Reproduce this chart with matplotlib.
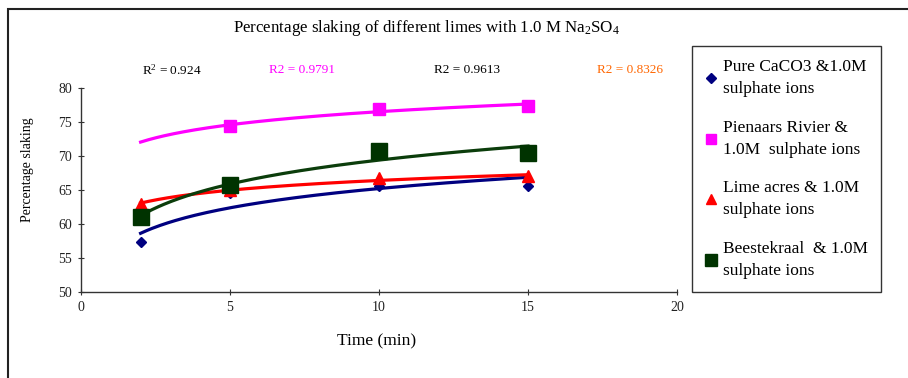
import numpy as np
import matplotlib
matplotlib.use('Agg')
import matplotlib.pyplot as plt
from matplotlib.patches import Rectangle

plt.rcParams['font.family'] = ['Liberation Serif', 'DejaVu Serif']
plt.rcParams['mathtext.fontset'] = 'custom'
plt.rcParams['mathtext.rm'] = 'Liberation Serif'
plt.rcParams['mathtext.it'] = 'Liberation Serif'

# data
x_pure = [2, 5, 10, 15]
y_pure = [57.4, 64.5, 65.6, 65.6]
x_pien = [5, 10, 15]
y_pien = [74.45, 76.9, 77.4]
x_lime = [2, 5, 10, 15]
y_lime = [63.0, 65.0, 66.7, 67.0]
x_bees = [2, 5, 10, 15]
y_bees = [61.05, 65.7, 70.7, 70.5]

labels = ['Pure CaCO3 &1.0M\nsulphate ions',
          'Pienaars Rivier &\n1.0M  sulphate ions',
          'Lime acres & 1.0M\nsulphate ions',
          'Beestekraal  & 1.0M\nsulphate ions']
r2_texts = ['R$^2$ = 0.924', 'R2 = 0.9791', 'R2 = 0.9613', 'R2 = 0.8326']
r2_colors = ['black', '#FF00FF', 'black', '#FF6600']

series = [
    (x_pure, y_pure, '#000080', '#000080', 'D', 5.5),
    (x_pien, y_pien, '#FF00FF', '#FF00FF', 's', 8),
    (x_lime, y_lime, '#FF0000', '#FF0000', '^', 8),
    (x_bees, y_bees, '#003300', '#0b3d0b', 's', 11),
]

fig = plt.figure(figsize=(9.08, 3.78), dpi=100)
ax = fig.add_axes([81/908, 1-292/378, 596/908, 204/378])

xt = np.linspace(2, 15, 200)
handles = []
for xs, ys, mc, lc, mk, ms in series:
    # logarithmic trendline like the spreadsheet one
    k, b = np.polyfit(np.log(xs), ys, 1)
    ax.plot(xt, k*np.log(xt) + b, color=lc, lw=2.3, zorder=2)
for xs, ys, mc, lc, mk, ms in series:
    h, = ax.plot(xs, ys, linestyle='none', marker=mk, ms=ms, color=mc, zorder=3)
    handles.append(h)

ax.set_xlim(0, 20)
ax.set_ylim(50, 80)
ax.set_xticks([0, 5, 10, 15, 20])
ax.set_yticks([50, 55, 60, 65, 70, 75, 80])
for s in ['top', 'right']:
    ax.spines[s].set_visible(False)
for s in ['left', 'bottom']:
    ax.spines[s].set_color('#333333')
    ax.spines[s].set_linewidth(1.0)
ax.tick_params(direction='inout', length=5, width=0.8, labelsize=10, pad=4, colors='#333333', labelcolor='#222222')

fig.text(426/908, 1-28/378, 'Percentage slaking of different limes with 1.0 M Na$_2$SO$_4$',
         ha='center', va='center', fontsize=12.2)
r2_x = [172, 302, 467, 630]
for xp, t, c in zip(r2_x, r2_texts, r2_colors):
    fig.text(xp/908, 1-70/378, t, ha='center', va='center', fontsize=9.5, color=c)

fig.text(377/908, 1-341/378, 'Time (min)', ha='center', va='center', fontsize=12.5)
fig.text(27/908, 1-170/378, 'Percentage slaking', ha='center', va='center',
         rotation=90, fontsize=10)

leg = fig.legend(handles, labels, loc='upper left', bbox_to_anchor=(692/908, 1-46/378),
                 frameon=True, fancybox=False,
                 prop={'family': 'Liberation Serif', 'size': 12.5},
                 handlelength=0.7, handletextpad=0.35, labelspacing=1.3, borderpad=0.75,
                 borderaxespad=0, markerscale=0.85)
for t in leg.get_texts():
    t.set_linespacing(1.5)
leg.get_frame().set_edgecolor('black')
leg.get_frame().set_linewidth(1.0)

# outer chart border (only left and top visible in the crop)
fig.patches.append(Rectangle((8/908, -0.2), 1.2, 1.2 - 9/378, transform=fig.transFigure,
                             fill=False, edgecolor='#222222', lw=1.5))

fig.savefig('out.png', dpi=100)
